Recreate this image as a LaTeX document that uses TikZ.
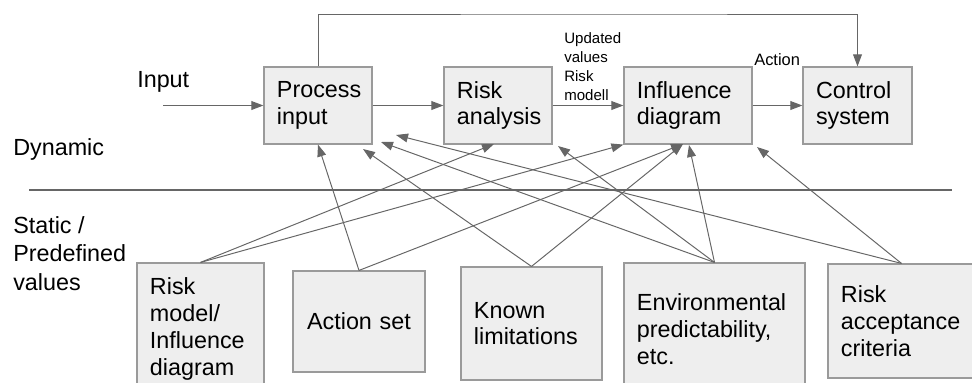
\documentclass[tikz,border=0pt]{standalone}
\usepackage{fontspec}
\setmainfont{Liberation Sans}
\usetikzlibrary{arrows.meta}

\definecolor{boxfill}{HTML}{EEEEEE}
\definecolor{boxline}{HTML}{9A9A9A}
\definecolor{linegray}{HTML}{666666}

\tikzset{
  box/.style={draw=boxline, line width=0.8pt, fill=boxfill, align=left,
    inner xsep=0.325cm, inner ysep=0pt, font=\fontsize{16.6}{19}\selectfont},
  conn/.style={draw=linegray, line width=0.7pt,
    -{Triangle[length=3mm,width=2.2mm]}},
  side/.style={inner sep=0pt, align=left, font=\fontsize{16.6}{20.3}\selectfont},
}

\begin{document}
\begin{tikzpicture}[x=0.025cm,y=-0.025cm]

\useasboundingbox
(0,0)
rectangle
(972,382);

% Dynamic part
\node[box, text width=2.05cm, minimum height=1.925cm]
(pin)
at (318,105.5)
{Process\\input};

\node[box, text width=2.05cm, minimum height=1.925cm]
(risk)
at (498,105.5)
{Risk\\analysis};

\node[box, text width=2.55cm, minimum height=1.925cm]
(infl)
at (688,105.5)
{Influence\\diagram};

\node[box, text width=2.075cm, minimum height=1.925cm]
(ctrl)
at (857.5,105.5)
{Control\\system};

% Static part
\node[box, text width=2.525cm, minimum height=3.3cm]
(rmodel)
at (200.5,329)
{Risk\\model/\\Influence\\diagram};

\node[box, align=center, text width=2.65cm, minimum height=2.525cm]
(aset)
at (359,321.5)
{Action set};

\node[box, text width=2.875cm, minimum height=2.825cm]
(klim)
at (531.5,323.5)
{Known\\limitations};

\node[box, text width=3.875cm, minimum height=3.3cm]
(env)
at (714.5,329)
{Environmental\\predictability,\\etc.};

\node[box, text width=3.025cm, minimum height=2.85cm]
(racc)
at (901.5,321)
{Risk\\acceptance\\criteria};

% Side labels
\node[side, anchor=base west]
(inlbl)
at (137,87)
{Input};

\node[side, anchor=base west]
(dynlbl)
at (13,155)
{Dynamic};

\node[side, anchor=north west]
(statlbl)
at (13,216)
{Static /\\Predefined\\values};

\draw[draw=linegray, line width=0.8pt]
(29,190)
--
(952,190);

% Labels on the arrows
\node[inner sep=0pt, anchor=north west, align=left,
  font=\fontsize{10.7}{13.5}\selectfont]
(updlbl)
at (564,32)
{Updated\\values\\Risk\\modell};

\node[inner sep=0pt, anchor=base west, font=\fontsize{11.7}{14}\selectfont]
(actlbl)
at (754,65)
{Action};

% Free ends
\coordinate (inp) at (163,105.5);
\coordinate (fbk) at (600,14);
\coordinate (tPinA) at (363,149);
\coordinate (tPinB) at (381,142);
\coordinate (tPinC) at (396,135);
\coordinate (tRisk) at (494,144);
\coordinate (tRiskE) at (558,146);
\coordinate (tInflA) at (683,144);
\coordinate (tInflB) at (689,145);
\coordinate (tInflE) at (757,147);

% Main chain
\draw[conn]
(inp)
--
(pin.west);

\draw[conn]
(pin.east)
--
(risk.west);

\draw[conn]
(risk.east)
--
(infl.west);

\draw[conn]
(infl.east)
--
(ctrl.west);

\draw[conn]
(pin.north)
|- (fbk)
-| (ctrl.north);

% Risk model
\draw[conn] (rmodel.north) -- (tRisk);
\draw[conn] (rmodel.north) -- (infl.south west);

% Action set
\draw[conn] (aset.north) -- (pin.south);
\draw[conn] (aset.north) -- (tInflA);

% Known limitations
\draw[conn] (klim.north) -- (tPinA);
\draw[conn] (klim.north) -- (tInflA);

% Environmental predictability
\draw[conn] (env.north) -- (tPinB);
\draw[conn] (env.north) -- (tRiskE);
\draw[conn] (env.north) -- (tInflB);

% Risk acceptance
\draw[conn] (racc.north) -- (tPinC);
\draw[conn] (racc.north) -- (tInflE);

\end{tikzpicture}
\end{document}
